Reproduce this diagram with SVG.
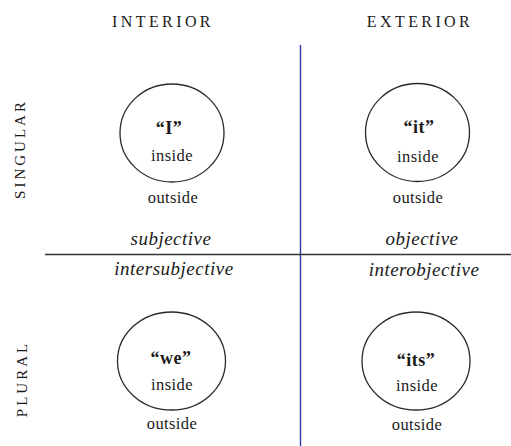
<svg xmlns="http://www.w3.org/2000/svg" width="511" height="446" viewBox="0 0 511 446">
<style>
.hdr{font-family:"Liberation Serif","DejaVu Serif",serif;font-size:16px;letter-spacing:3.4px;fill:#1a1a1a;text-anchor:middle}
.side{font-family:"Liberation Serif","DejaVu Serif",serif;font-size:15px;letter-spacing:3px;fill:#1a1a1a;text-anchor:middle}
.q{font-family:"Liberation Serif","DejaVu Serif",serif;font-size:18px;font-weight:bold;fill:#1a1a1a;text-anchor:middle;letter-spacing:0.5px}
.s{font-family:"Liberation Serif","DejaVu Serif",serif;font-size:16.5px;fill:#1a1a1a;text-anchor:middle;letter-spacing:0.4px}
.it{font-family:"Liberation Serif","DejaVu Serif",serif;font-size:19px;font-style:italic;fill:#1a1a1a;text-anchor:middle;letter-spacing:0.5px}
.c{fill:none;stroke:#2a2a2a;stroke-width:1.3}
</style>
<rect width="511" height="446" fill="#fff"/>
<text class="hdr" x="163" y="27">INTERIOR</text>
<text class="hdr" x="420" y="27">EXTERIOR</text>
<text class="side" transform="translate(25,149) rotate(-90)">SINGULAR</text>
<text class="side" transform="translate(27,379) rotate(-90)">PLURAL</text>
<g id="connectors">
<line x1="300.5" y1="45" x2="300.5" y2="446" stroke="#2b3aa8" stroke-width="1.4"/>
<line x1="45" y1="254.5" x2="511" y2="254.5" stroke="#333" stroke-width="1.5"/>
</g>
<g id="node-I">
<ellipse class="c" cx="172" cy="133" rx="52" ry="49"/>
<text class="q" x="169" y="134">“I”</text>
<text class="s" x="172" y="161">inside</text>
<text class="s" x="173" y="203">outside</text>
</g>
<g id="node-it">
<ellipse class="c" cx="417.5" cy="132.5" rx="52" ry="49"/>
<text class="q" x="419" y="133">“it”</text>
<text class="s" x="418" y="162">inside</text>
<text class="s" x="418" y="203">outside</text>
</g>
<g id="node-we">
<ellipse class="c" cx="171.5" cy="361" rx="54" ry="49"/>
<text class="q" x="171" y="364">“we”</text>
<text class="s" x="172" y="390">inside</text>
<text class="s" x="172" y="429">outside</text>
</g>
<g id="node-its">
<ellipse class="c" cx="416" cy="361" rx="54" ry="49"/>
<text class="q" x="416" y="366">“its”</text>
<text class="s" x="417" y="391">inside</text>
<text class="s" x="417" y="430">outside</text>
</g>
<g id="labels">
<text class="it" x="171" y="245">subjective</text>
<text class="it" x="422" y="245">objective</text>
<text class="it" x="174" y="275">intersubjective</text>
<text class="it" x="424" y="276">interobjective</text>
</g>
</svg>
